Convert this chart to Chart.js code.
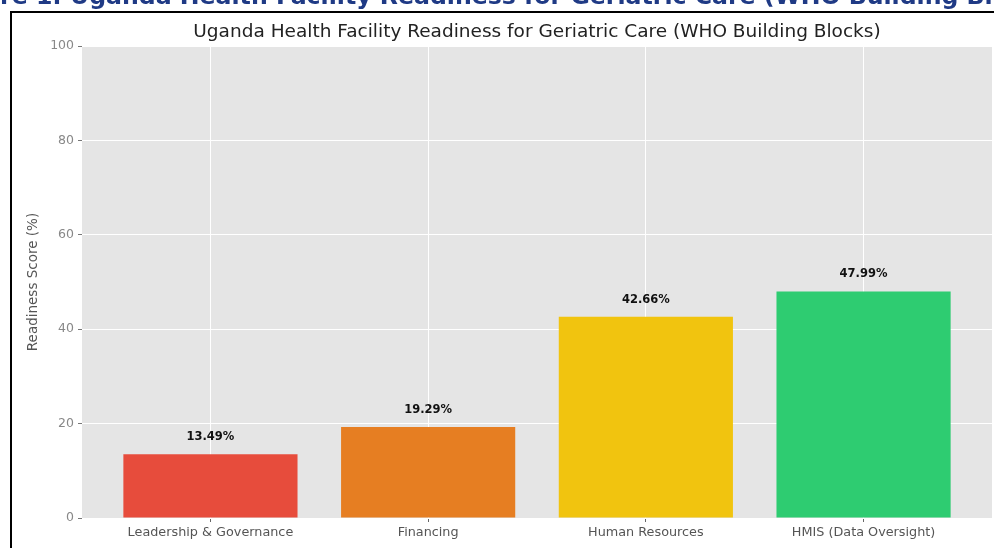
<!DOCTYPE html>
<html><head><meta charset="utf-8">
<script src="https://cdn.jsdelivr.net/npm/chart.js@4"></script>
<style>
html,body{margin:0;padding:0;background:#fff;width:994px;height:548px;overflow:hidden}
#wrap{position:relative;width:994px;height:548px}
#c{position:absolute;left:0;top:0}
#frame{position:absolute;left:10px;top:11px;width:1000px;height:600px;border-left:2px solid #000;border-top:2px solid #000;pointer-events:none}
</style></head>
<body><div id="wrap"><canvas id="c" width="994" height="548"></canvas><div id="frame"></div></div>
<script>
const categories = ["Leadership & Governance", "Financing", "Human Resources", "HMIS (Data Oversight)"];
const scores = [13.49, 19.29, 42.66, 47.99];
const barColors = ["#E74C3C", "#E67E22", "#F1C40F", "#2ECC71"];
const yTicks = [0, 20, 40, 60, 80, 100];
const chartTitle = "Uganda Health Facility Readiness for Geriatric Care (WHO Building Blocks)";
const caption = "Figure 1: Uganda Health Facility Readiness for Geriatric Care (WHO Building Blocks)";
const yLabel = "Readiness Score (%)";

Chart.defaults.font.family = "'DejaVu Sans', sans-serif";

const bgPlugin = {
  id: 'bg',
  beforeDraw(chart) {
    const a = chart.chartArea, ctx = chart.ctx;
    ctx.save();
    ctx.fillStyle = '#E5E5E5';
    ctx.fillRect(a.left, a.top, a.right - a.left, a.bottom - a.top);
    ctx.restore();
  }
};
const labelPlugin = {
  id: 'vals',
  afterDatasetsDraw(chart) {
    const ctx = chart.ctx;
    const meta = chart.getDatasetMeta(0);
    ctx.save();
    ctx.font = "bold 11.5px 'DejaVu Sans'";
    ctx.fillStyle = '#111';
    ctx.textAlign = 'center';
    ctx.textBaseline = 'middle';
    meta.data.forEach((el, i) => {
      ctx.fillText(scores[i].toFixed(2) + '%', el.x, el.y - 17);
    });
    ctx.restore();
  },
  afterDraw(chart) {
    const ctx = chart.ctx, a = chart.chartArea;
    ctx.save();
    // chart title centred over the plotting area
    ctx.font = "18.5px 'DejaVu Sans'";
    ctx.fillStyle = '#222';
    ctx.textAlign = 'center';
    ctx.textBaseline = 'middle';
    ctx.fillText(chartTitle, (a.left + a.right) / 2, 32);
    // cut-off document caption at the very top
    ctx.textAlign = 'left';
    ctx.font = "bold 20px 'DejaVu Sans'";
    const w = ctx.measureText("re 1: Uganda Health Facility Readiness for Geriatric Care (WHO Building B").width;
    const size = 20 * 985 / w;
    ctx.font = "bold " + size + "px 'DejaVu Sans'";
    const off = ctx.measureText("Figu").width;
    ctx.fillStyle = '#1f3a85';
    ctx.textBaseline = 'alphabetic';
    ctx.fillText(caption, -off, 4);
    ctx.restore();
  }
};

new Chart(document.getElementById('c'), {
  type: 'bar',
  data: {
    datasets: [{
      data: scores.map((v, i) => ({x: i, y: v})),
      backgroundColor: barColors,
      borderWidth: 0,
      barPercentage: 0.8,
      categoryPercentage: 1.0
    }]
  },
  options: {
    responsive: false,
    animation: false,
    devicePixelRatio: 1,
    layout: {padding: {top: 46, right: 2, bottom: 0, left: 0}},
    plugins: {
      legend: {display: false},
      tooltip: {enabled: false},
      title: {display: false}
    },
    scales: {
      x: {
        type: 'linear',
        min: -0.59, max: 3.59,
        offset: false,
        afterBuildTicks: s => { s.ticks = categories.map((_, i) => ({value: i})); },
        afterFit: s => { s.height = 30; },
        grid: {offset: false, color: '#fff', lineWidth: 1, tickColor: '#666', tickLength: 4},
        border: {display: false},
        ticks: {
          callback: v => categories[v],
          color: '#555', font: {size: 12.8}, padding: 3, maxRotation: 0, autoSkip: false
        }
      },
      y: {
        min: 0, max: 100,
        afterBuildTicks: s => { s.ticks = yTicks.map(v => ({value: v})); },
        afterFit: s => { s.width = 82; },
        grid: {color: '#fff', lineWidth: 1, tickColor: '#777', tickLength: 4},
        border: {display: false},
        ticks: {color: '#888', font: {size: 12.5}, padding: 4},
        title: {display: true, text: yLabel, color: '#555', font: {size: 13.5}, padding: {top: 25, bottom: 0}}
      }
    }
  },
  plugins: [bgPlugin, labelPlugin]
});
</script>
</body></html>
